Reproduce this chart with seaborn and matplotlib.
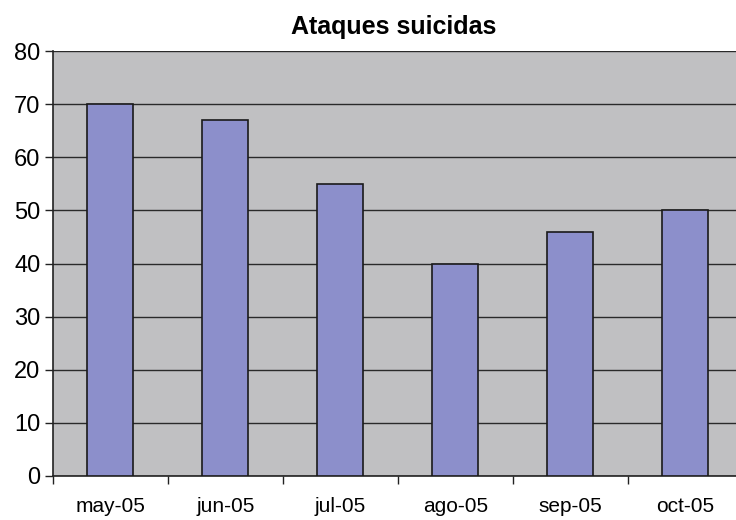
import matplotlib
matplotlib.use("Agg")
import matplotlib.pyplot as plt
import seaborn as sns
import pandas as pd

months = ["may-05", "jun-05", "jul-05", "ago-05", "sep-05", "oct-05"]
attacks = [70, 67, 55, 40, 46, 50]
y_ticks = [0, 10, 20, 30, 40, 50, 60, 70, 80]

sns.set_style("white")
plt.rcParams["font.family"] = ["Liberation Sans", "DejaVu Sans"]
plt.rcParams["text.color"] = "black"
plt.rcParams["xtick.color"] = "black"
plt.rcParams["ytick.color"] = "black"

df = pd.DataFrame({"mes": months, "ataques": attacks})

fig = plt.figure(figsize=(7.36, 5.2), dpi=100)
fig.patch.set_facecolor("white")
ax = fig.add_axes([53 / 736, 44 / 520, 690 / 736, 425 / 520])
ax.set_facecolor("#c0c0c2")

sns.barplot(data=df, x="mes", y="ataques", color="#8c8fcb", width=0.4,
            edgecolor="#1a1a1a", linewidth=1.2, saturation=1, ax=ax, zorder=3)

ax.set_ylim(0, 80)
ax.set_xlim(-0.5, 5.5)
ax.set_yticks(y_ticks)
ax.yaxis.grid(True, color="#2a2a2a", linewidth=1.0, zorder=0)
ax.set_axisbelow(True)

# category boundaries carry the tick marks, labels sit between them
ax.set_xticks([i - 0.5 for i in range(len(months) + 1)], minor=False)
ax.set_xticklabels([])
ax.set_xticks(range(len(months)), minor=True)
ax.set_xticklabels(months, minor=True)
ax.tick_params(axis="x", which="major", direction="out", length=6, width=1, color="#222222", bottom=True)
ax.tick_params(axis="x", which="minor", length=0, pad=15, labelsize=15, labelcolor="black")
ax.tick_params(axis="y", direction="out", length=6, width=1, color="#222222", left=True,
               labelsize=17, pad=3, labelcolor="black")

for side in ["left", "bottom"]:
    ax.spines[side].set_color("#222222")
    ax.spines[side].set_linewidth(1.2)
ax.spines["right"].set_visible(False)
ax.spines["top"].set_visible(False)

ax.set_xlabel("")
ax.set_ylabel("")
fig.text(394 / 736, 1 - 27 / 520, "Ataques suicidas", ha="center", va="center",
         fontsize=18, fontweight="bold", color="black")

fig.savefig("out.png", dpi=100)
